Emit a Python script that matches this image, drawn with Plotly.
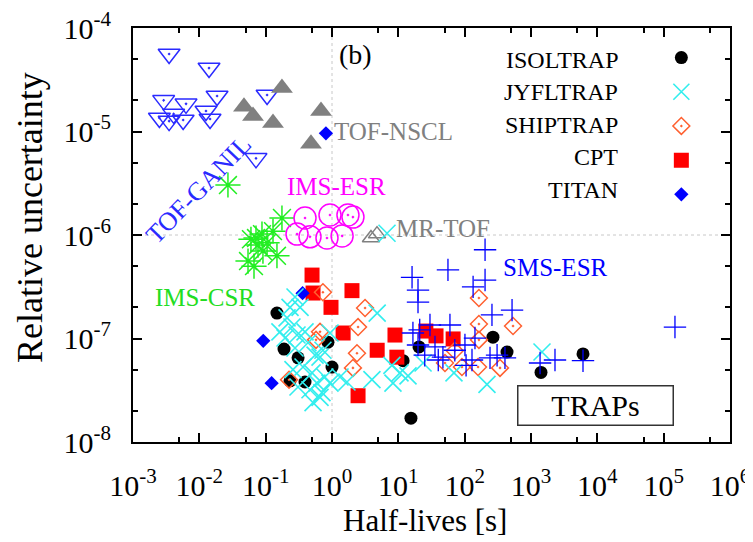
import plotly.graph_objects as go

# ---------------- data (half-life [s], relative uncertainty) ----------------
tof_ganil_x = [3.5e-3, 0.014, 2.9e-3, 6.3e-3, 0.0185, 2.5e-3, 3.5e-3, 4.1e-3, 5.7e-3, 0.0126, 0.0145, 0.105, 0.0715]
tof_ganil_y = [5.6e-5, 4.1e-5, 2.0e-5, 1.85e-5, 2.2e-5, 1.35e-5, 1.26e-5, 1.48e-5, 1.29e-5, 1.58e-5, 1.32e-5, 2.25e-5, 5.5e-6]

tof_nscl_x = [0.176, 0.0471, 0.0644, 0.129, 0.683, 0.482]
tof_nscl_y = [2.63e-5, 1.73e-5, 1.41e-5, 1.21e-5, 1.58e-5, 7.6e-6]

ims_csr_x = [0.027, 0.176, 0.129, 0.088, 0.060, 0.0766, 0.091, 0.148, 0.0542, 0.0667, 0.0715, 0.105]
ims_csr_y = [3.04e-6, 1.46e-6, 1.09e-6, 1.02e-6, 9.1e-7, 8.0e-7, 7.0e-7, 6.3e-7, 5.6e-7, 5.0e-7, 9.35e-7, 8.4e-7]

ims_esr_x = [0.392, 0.933, 1.74, 2.07, 0.297, 0.466, 0.84, 1.42]
ims_esr_y = [1.46e-6, 1.56e-6, 1.56e-6, 1.49e-6, 1.02e-6, 9.6e-7, 9.35e-7, 9.8e-7]

mr_tof_x = [3.87, 4.77]
mr_tof_y = [9.35e-7, 1.02e-6]

sms_esr_x = [203, 56, 16.1, 19.8, 19.8, 203, 134, 258, 518, 148000, 16.6, 30, 60, 19.8, 35.7,
             47, 101, 143, 129, 241, 308, 405, 1370, 2300, 6080, 105, 40, 71, 25, 21]
sms_esr_y = [7.2e-7, 4.6e-7, 3.9e-7, 2.94e-7, 2.25e-7, 3.67e-7, 3.15e-7, 1.69e-7, 1.88e-7, 1.29e-7,
             1.13e-7, 1.35e-7, 1.35e-7, 8.65e-8, 8.3e-8, 6.6e-8, 8.65e-8, 1.01e-7, 6.2e-8, 6.5e-8,
             6.9e-8, 6.5e-8, 5.8e-8, 6.2e-8, 6.1e-8, 5.5e-8, 6.2e-8, 7.7e-8, 6.9e-8, 1.21e-7]

isoltrap_x = [0.148, 0.189, 0.308, 0.392, 0.233, 0.87, 1.0, 11.8, 20.5, 15.5, 267, 435, 1415, 6080]
isoltrap_y = [1.76e-7, 7.9e-8, 6.5e-8, 3.8e-8, 3.9e-8, 9.2e-8, 5.3e-8, 6.1e-8, 8.3e-8, 1.7e-8, 1.03e-7, 7.4e-8, 4.7e-8, 7.1e-8]

jyfltrap_x = [0.277, 0.233, 0.21, 0.249, 0.164, 0.196, 0.297, 0.392, 0.435, 0.277, 0.555, 0.66, 0.366,
              0.5, 0.594, 0.307, 0.466, 0.518, 0.706, 0.258, 0.78, 4.8, 0.933, 0.73, 1.32, 1.68, 0.933,
              0.66, 4.0, 8.3, 8.0, 10.6, 14.0, 23.6, 69, 217, 1465, 6.75, 0.33]
jyfltrap_y = [2.52e-7, 2.0e-7, 1.58e-7, 1.29e-7, 1.16e-7, 1.01e-7, 1.08e-7, 1.16e-7, 9.1e-8, 8.1e-8,
              6.9e-8, 6.6e-8, 5.3e-8, 4.65e-8, 3.7e-8, 3.4e-8, 3.2e-8, 2.4e-8, 3.0e-8, 5.0e-8, 4.25e-8,
              1.76e-7, 1.13e-7, 7.7e-8, 4.25e-8, 3.8e-8, 3.7e-8, 2.7e-8, 4.0e-8, 3.7e-8, 5.5e-8, 4.65e-8,
              4.35e-8, 5.8e-8, 4.65e-8, 3.6e-8, 7.4e-8, 1.04e-6, 2.0e-7]

shiptrap_x = [0.73, 0.66, 0.574, 0.225, 3.15, 2.47, 2.38, 2.07, 71, 50.5, 91, 164, 164, 536, 164, 159, 341]
shiptrap_y = [2.8e-7, 1.16e-7, 9.7e-8, 4.0e-8, 1.97e-7, 1.29e-7, 7.2e-8, 5.2e-8, 7.6e-8, 5.8e-8, 5.3e-8,
              2.46e-7, 1.38e-7, 1.32e-7, 9.7e-8, 5.3e-8, 5.2e-8]

cpt_x = [0.5, 0.518, 0.966, 2.0, 1.47, 8.9, 4.8, 9.5, 2.47, 26, 37, 67]
cpt_y = [4.1e-7, 2.75e-7, 2.0e-7, 2.9e-7, 1.13e-7, 1.08e-7, 7.7e-8, 6.6e-8, 2.8e-8, 1.18e-7, 1.06e-7, 9.9e-8]

titan_x = [0.81, 0.36, 0.092, 0.123]
titan_y = [9.6e-6, 2.74e-7, 9.5e-8, 3.7e-8]

x_tick_vals = [1e-3, 1e-2, 1e-1, 1e0, 1e1, 1e2, 1e3, 1e4, 1e5, 1e6]
x_tick_text = ["10<sup>-3</sup>", "10<sup>-2</sup>", "10<sup>-1</sup>", "10<sup>0</sup>", "10<sup>1</sup>",
               "10<sup>2</sup>", "10<sup>3</sup>", "10<sup>4</sup>", "10<sup>5</sup>", "10<sup>6</sup>"]
y_tick_vals = [1e-8, 1e-7, 1e-6, 1e-5, 1e-4]
y_tick_text = ["10<sup>-8</sup>", "10<sup>-7</sup>", "10<sup>-6</sup>", "10<sup>-5</sup>", "10<sup>-4</sup>"]
x_minor_vals = [5e-3, 5e-2, 5e-1, 5e0, 5e1, 5e2, 5e3, 5e4, 5e5]
y_minor_vals = [2e-8, 5e-8, 2e-7, 5e-7, 2e-6, 5e-6, 2e-5, 5e-5]

legend_names = ["ISOLTRAP", "JYFLTRAP", "SHIPTRAP", "CPT", "TITAN"]
x_title = "Half-lives [s]"
y_title = "Relative uncertainty"

# ---------------- figure ----------------
FONT = "Liberation Serif, Times New Roman, serif"
fig = go.Figure()


def add(x, y, symbol, color, size, lw=1.5, legend_idx=None):
    marker = dict(symbol=symbol, size=size, color=color, line=dict(color=color, width=lw))
    fig.add_trace(go.Scatter(
        x=x, y=y, mode="markers", marker=marker,
        name=" ", showlegend=legend_idx is not None,
        legendrank=(legend_idx if legend_idx is not None else 0) + 1,
        hoverinfo="skip"))


add(tof_ganil_x, tof_ganil_y, "triangle-down-open-dot", "#2a2aff", 19)
add(tof_nscl_x, tof_nscl_y, "triangle-up", "#808080", 19, lw=0)
add(ims_csr_x, ims_csr_y, "asterisk-open", "#22ee22", 21, lw=1.5)
add(ims_esr_x, ims_esr_y, "circle-open-dot", "#ff00ff", 22, lw=1.5)
add(mr_tof_x, mr_tof_y, "triangle-up-open", "#808080", 15, lw=1.5)
add(isoltrap_x, isoltrap_y, "circle", "#000000", 13, lw=0, legend_idx=0)
add(cpt_x, cpt_y, "square", "#ff0000", 15, lw=0, legend_idx=3)
add(titan_x, titan_y, "diamond", "#0000ff", 11, lw=0, legend_idx=4)
add(shiptrap_x, shiptrap_y, "diamond-open-dot", "#ff6030", 13, lw=1.5, legend_idx=2)
add(jyfltrap_x, jyfltrap_y, "x-thin-open", "#33eeee", 17, lw=1.6, legend_idx=1)
add(sms_esr_x, sms_esr_y, "cross-thin-open", "#0000ff", 16, lw=1.3)

# reference dotted lines at 10^0 s and 10^-6
fig.add_shape(type="line", xref="x", yref="paper", x0=1, x1=1, y0=0, y1=1,
              line=dict(color="#c8c8c8", width=1, dash="dot"), layer="below")
fig.add_shape(type="line", xref="paper", yref="y", x0=0, x1=1, y0=1e-6, y1=1e-6,
              line=dict(color="#c8c8c8", width=1, dash="dot"), layer="below")

axis_common = dict(
    showline=True, linecolor="black", linewidth=2, mirror="allticks",
    ticks="inside", ticklen=9, tickwidth=2, tickcolor="black",
    showgrid=False, zeroline=False, automargin=False, ticklabeloverflow="allow",
    tickfont=dict(family=FONT, size=30, color="black"),
)

fig.update_xaxes(
    type="log", range=[-3, 6], tickmode="array", tickvals=x_tick_vals, ticktext=x_tick_text,
    minor=dict(tickmode="array", tickvals=x_minor_vals, ticks="inside", ticklen=5, tickwidth=2,
               tickcolor="black", showgrid=False),
    ticklabelstandoff=16,
    **axis_common)
fig.update_yaxes(
    type="log", range=[-8, -4], tickmode="array", tickvals=y_tick_vals, ticktext=y_tick_text,
    minor=dict(tickmode="array", tickvals=y_minor_vals, ticks="inside", ticklen=5, tickwidth=2,
               tickcolor="black", showgrid=False),
    ticklabelstandoff=14,
    **axis_common)

# axis titles
fig.add_annotation(text=x_title, x=0.489, y=-0.1908, xref="paper", yref="paper", xanchor="center",
                   yanchor="middle", showarrow=False, font=dict(family=FONT, size=31, color="black"))
fig.add_annotation(text=y_title, x=-0.1725, y=0.541, xref="paper", yref="paper", xanchor="center",
                   yanchor="middle", showarrow=False, textangle=-90,
                   font=dict(family=FONT, size=36, color="black"))

# text labels
labels = [
    ("(b)", 0.3735, 0.935, "center", "black", 28, 0),
    ("TOF-NSCL", 0.3337, 0.7488, "left", "#808080", 25, 0),
    ("IMS-ESR", 0.3417, 0.616, "center", "#ff00ff", 25, 0),
    ("MR-TOF", 0.4369, 0.5169, "left", "#808080", 25, 0),
    ("SMS-ESR", 0.6161, 0.4203, "left", "#0000ff", 25, 0),
    ("IMS-CSR", 0.1206, 0.3502, "center", "#22dd22", 25, 0),
    ("TOF-GANIL", 0.1106, 0.6087, "center", "#2a2aff", 26, -46),
]
for text, x, y, anchor, color, size, ang in labels:
    fig.add_annotation(text=text, x=x, y=y, xref="paper", yref="paper", xanchor=anchor, yanchor="middle",
                       showarrow=False, textangle=ang, font=dict(family=FONT, size=size, color=color))

fig.add_annotation(text="TRAPs", x=0.7739, y=0.087, xref="paper", yref="paper", xanchor="center",
                   yanchor="middle", showarrow=False, width=150, height=34, borderpad=2,
                   bordercolor="#333333", borderwidth=1.5, bgcolor="white",
                   font=dict(family=FONT, size=30, color="black"))

# legend labels (text to the left of the symbols)
legend_rows_y = [0.9227, 0.8454, 0.7657, 0.6884, 0.6087]
for name, y in zip(legend_names, legend_rows_y):
    fig.add_annotation(text=name, x=0.8157, y=y, xref="paper", yref="paper", xanchor="right",
                       yanchor="middle", showarrow=False, font=dict(family=FONT, size=24, color="black"))

# page body has an 8px margin: figure is sized/offset so the plot area lands at x 133-730, y 28-442
fig.update_layout(
    width=745, height=534, autosize=False,
    margin=dict(l=125, r=23, t=20, b=100),
    paper_bgcolor="white", plot_bgcolor="white",
    font=dict(family=FONT, color="black"),
    legend=dict(x=0.885, y=0.982, xanchor="left", yanchor="top", bgcolor="rgba(0,0,0,0)",
                font=dict(family=FONT, size=24), itemwidth=30, tracegroupgap=0),
)

fig.write_html("out.html")
